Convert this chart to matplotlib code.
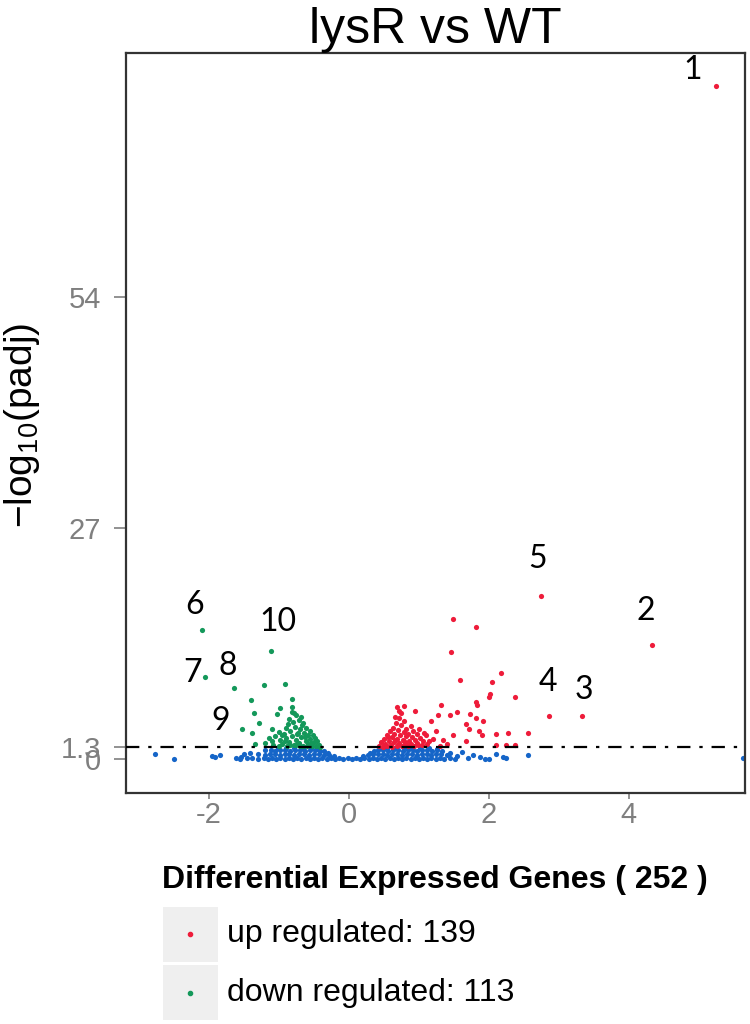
import matplotlib.pyplot as plt
import numpy as np
from matplotlib.patches import Rectangle
from matplotlib.lines import Line2D

plt.rcParams['font.family'] = ['Liberation Sans', 'DejaVu Sans']
plt.rcParams['mathtext.default'] = 'regular'
plt.rcParams['axes.unicode_minus'] = False

# up regulated genes (log2FC, -log10 padj)
up_pts = [
    (5.24, 78.6), (4.33, 13.3), (3.33, 5.0), (2.86, 5.0), (2.74, 19.0),
    (1.49, 16.3), (1.81, 15.4), (1.46, 12.4), (2.17, 10.0), (1.59, 9.2),
    (2.05, 8.9), (2.01, 7.6), (2.0, 7.2), (2.37, 7.2), (1.82, 6.6),
    (1.83, 6.3), (1.31, 6.3), (0.94, 5.6), (0.79, 6.1), (1.28, 5.06),
    (1.45, 5.06), (1.54, 5.4), (1.73, 5.2), (1.81, 4.7), (1.91, 4.4),
    (1.17, 4.4), (1.67, 4.0), (1.71, 3.4), (1.86, 3.2), (1.9, 2.7),
    (2.1, 2.9), (2.27, 3.0), (2.56, 3.0), (1.25, 3.2), (1.1, 2.8),
    (1.49, 2.7), (1.2, 2.3), (1.67, 2.05), (1.4, 1.7), (2.1, 1.55),
    (2.25, 1.55), (2.37, 1.55), (0.99, 1.55),
    (0.43, 1.5), (0.46, 1.9), (0.48, 1.4), (0.5, 2.3), (0.52, 1.7),
    (0.54, 2.8), (0.55, 1.5), (0.57, 2.1), (0.58, 3.2), (0.6, 1.6),
    (0.61, 2.5), (0.63, 3.6), (0.64, 1.9), (0.65, 2.9), (0.67, 4.1),
    (0.68, 1.5), (0.69, 2.3), (0.7, 3.3), (0.71, 4.7), (0.72, 1.8),
    (0.73, 2.7), (0.74, 3.9), (0.75, 5.3), (0.76, 1.5), (0.77, 2.2),
    (0.78, 3.1), (0.79, 4.4), (0.8, 1.8), (0.81, 2.6), (0.82, 3.5),
    (0.84, 1.5), (0.85, 2.9), (0.86, 2.1), (0.88, 3.8), (0.89, 1.7),
    (0.9, 2.5), (0.92, 3.2), (0.93, 1.5), (0.95, 2.2), (0.97, 2.9),
    (0.98, 1.8), (1.0, 3.4), (1.02, 2.4), (1.04, 1.6), (1.06, 2.0),
    (1.08, 3.0), (1.12, 1.7), (1.15, 2.1), (1.3, 1.5), (1.35, 2.2),
    (0.69, 6.0), (0.72, 5.6), (0.66, 4.8), (0.5, 1.6), (0.62, 1.4),
    (0.7, 1.6), (0.83, 1.6), (0.56, 2.5), (0.66, 2.2), (0.79, 2.0),
]

# down regulated genes
down_pts = [
    (-2.1, 15.05), (-2.06, 9.57), (-1.64, 8.3), (-1.11, 12.6), (-1.21, 8.55),
    (-0.91, 8.67), (-1.4, 6.8), (-0.81, 7.0), (-1.36, 5.37), (-0.99, 5.95),
    (-1.03, 5.25), (-0.82, 6.0), (-0.81, 5.4), (-0.75, 5.06), (-0.68, 4.86),
    (-1.29, 4.1), (-1.53, 3.5), (-1.39, 3.0), (-1.1, 3.5), (-1.34, 1.75),
    (-1.1, 2.0),
    (-1.05, 2.6), (-1.0, 3.1), (-0.98, 2.2), (-0.95, 1.7), (-0.93, 2.9),
    (-0.9, 3.6), (-0.9, 2.4), (-0.87, 4.0), (-0.86, 1.9), (-0.84, 3.2),
    (-0.82, 2.6), (-0.8, 4.3), (-0.79, 1.6), (-0.77, 3.7), (-0.76, 2.2),
    (-0.74, 2.9), (-0.72, 4.5), (-0.71, 1.8), (-0.7, 3.4), (-0.68, 2.5),
    (-0.67, 3.9), (-0.65, 1.5), (-0.64, 3.0), (-0.62, 2.1), (-0.61, 3.6),
    (-0.59, 2.7), (-0.58, 1.7), (-0.56, 3.2), (-0.55, 2.3), (-0.53, 1.5),
    (-0.52, 2.8), (-0.5, 1.9), (-0.48, 2.4), (-0.47, 1.5), (-0.45, 2.0),
    (-0.43, 1.6), (-0.41, 1.4), (-0.88, 1.5), (-0.96, 2.7), (-1.08, 1.6),
    (-1.14, 2.4), (-1.2, 1.8), (-0.85, 4.6), (-0.78, 5.3), (-0.73, 3.0),
    (-0.66, 4.2), (-0.6, 1.5), (-0.7, 1.5), (-0.75, 1.6), (-0.92, 2.0),
    (-0.63, 2.5), (-0.54, 1.8), (-0.84, 1.6), (-1.0, 1.5),
]

# not significant genes
ns_pts = [
    # bottom row
    (-1.62, 0.1), (-1.55, 0.0), (-1.38, 0.1), (-1.3, 0.0), (-1.22, 0.1),
    (-1.16, 0.0), (-1.1, 0.1), (-1.04, 0.0), (-0.98, 0.1), (-0.92, 0.0),
    (-0.86, 0.1), (-0.8, 0.0), (-0.74, 0.1), (-0.68, 0.0), (-0.62, 0.1),
    (-0.56, 0.0), (-0.5, 0.1), (-0.44, 0.0), (-0.38, 0.1), (-0.32, 0.0),
    (-0.26, 0.1), (-0.2, 0.0), (-0.14, 0.1), (-0.08, 0.0), (-0.02, 0.1),
    (0.04, 0.0), (0.1, 0.1), (0.16, 0.0), (0.22, 0.1), (0.28, 0.0),
    (0.34, 0.1), (0.4, 0.0), (0.46, 0.1), (0.52, 0.0), (0.58, 0.1),
    (0.64, 0.0), (0.7, 0.1), (0.76, 0.0), (0.82, 0.1), (0.88, 0.0),
    (0.94, 0.1), (1.0, 0.0), (1.06, 0.1), (1.12, 0.0), (1.18, 0.1),
    (1.24, 0.0), (1.3, 0.1), (1.36, 0.0), (1.44, 0.1), (1.52, 0.0),
    # second row
    (-1.3, 0.5), (-1.2, 0.45), (-1.13, 0.55), (-1.06, 0.5), (-0.99, 0.45),
    (-0.92, 0.55), (-0.85, 0.5), (-0.78, 0.45), (-0.71, 0.55), (-0.64, 0.5),
    (-0.57, 0.45), (-0.5, 0.55), (-0.43, 0.5), (-0.36, 0.45), (-0.29, 0.4),
    (-0.22, 0.3), (0.2, 0.3), (0.27, 0.45), (0.34, 0.5), (0.41, 0.55),
    (0.48, 0.5), (0.55, 0.45), (0.62, 0.55), (0.69, 0.5), (0.76, 0.45),
    (0.83, 0.55), (0.9, 0.5), (0.97, 0.45), (1.04, 0.55), (1.11, 0.5),
    (1.18, 0.45), (1.25, 0.55), (1.32, 0.5), (1.4, 0.45),
    # third row
    (-1.2, 0.95), (-1.12, 1.0), (-1.05, 0.9), (-0.98, 1.0), (-0.91, 0.95),
    (-0.84, 0.9), (-0.77, 1.0), (-0.7, 0.95), (-0.63, 0.9), (-0.56, 1.0),
    (-0.49, 0.95), (-0.42, 0.9), (-0.35, 0.85), (-0.3, 0.7), (0.3, 0.7),
    (0.36, 0.85), (0.42, 0.95), (0.49, 1.0), (0.56, 0.9), (0.63, 0.95),
    (0.7, 1.0), (0.77, 0.9), (0.84, 0.95), (0.91, 1.0), (0.98, 0.9),
    (1.05, 0.95), (1.12, 1.0), (1.19, 0.9), (1.26, 0.95), (1.33, 0.85),
    # top row
    (-1.02, 1.2), (-0.9, 1.25), (-0.78, 1.2), (-0.66, 1.25), (-0.54, 1.2),
    (-0.45, 1.15), (0.45, 1.2), (0.55, 1.25), (0.66, 1.2), (0.78, 1.25),
    (0.9, 1.2), (1.02, 1.25), (1.14, 1.2), (1.26, 1.15),
    # sparse
    (-2.77, 0.5), (-2.5, 0.0), (-1.96, 0.3), (-1.91, 0.2), (-1.84, 0.45),
    (-1.54, 0.2), (-1.5, 0.5), (-1.45, 0.1), (-1.42, 0.7),
    (1.45, 0.6), (1.55, 0.3), (1.62, 0.8), (1.7, 0.1), (1.78, 0.4),
    (1.88, 0.2), (1.94, 0.0), (2.0, 0.0), (2.1, 0.5), (2.2, 0.2),
    (2.25, 0.1), (2.56, 0.4), (5.63, 0.1),
]

# numbered labels next to selected genes
label_text = ['1', '2', '3', '4', '5', '6', '7', '8', '9', '10']
label_x = [4.91, 4.24, 3.36, 2.84, 2.69, -2.20, -2.24, -1.73, -1.83, -1.02]
label_y = [80.5, 17.3, 7.97, 9.0, 23.3, 17.9, 10.0, 10.85, 4.43, 16.0]

y_ticks = [0, 1.3, 27, 54]
y_ticklabels = ['0', '1.3', '27', '54']
x_ticks = [-2, 0, 2, 4]

red = '#EE1C3A'
green = '#14985A'
blue = '#1565C8'

fig = plt.figure(figsize=(7.5, 10.24), dpi=100)
ax = fig.add_axes([0.168, 0.2256, 0.825, 0.7224])

ns = np.array(ns_pts).T
up = np.array(up_pts).T
down = np.array(down_pts).T
ax.scatter(ns[0], ns[1], s=14, color=blue, linewidths=0, zorder=2)
ax.scatter(up[0], up[1], s=14, color=red, linewidths=0, zorder=3)
ax.scatter(down[0], down[1], s=14, color=green, linewidths=0, zorder=3)

ax.axhline(1.3, color='black', lw=1.6, ls=(0, (6, 4, 1.5, 4)), zorder=4)

for t, x, y in zip(label_text, label_x, label_y):
    ax.text(x, y, t, fontsize=23, family='Lato', ha='center', va='center')

ax.set_xlim(-3.186, 5.657)
ax.set_ylim(-4.03, 82.45)
ax.set_yticks(y_ticks)
ax.set_yticklabels(y_ticklabels)
ax.set_xticks(x_ticks)
ax.tick_params(colors='#7f7f7f', labelsize=21, width=1.2)
ax.tick_params(axis='y', length=9, pad=9)
ax.tick_params(axis='x', length=4, pad=2)
for sp in ax.spines.values():
    sp.set_linewidth(1.6)
    sp.set_color('#333333')

ax.set_title('lysR vs WT', fontsize=36, pad=6)
ax.set_ylabel('$-log_{10}(padj)$', fontsize=28)
ax.yaxis.set_label_coords(-0.136, 0.497)

fig.text(0.58, 0.1406, 'Differential Expressed Genes ( 252 )',
         fontsize=23, fontweight='bold', ha='center', va='center')

# legend drawn by hand
for yb, col, txt in [(0.0608, red, 'up regulated: 139'),
                     (0.0039, green, 'down regulated: 113')]:
    fig.add_artist(Rectangle((0.217, yb), 0.073, 0.0535,
                             transform=fig.transFigure, facecolor='#efefef',
                             edgecolor='none'))
    fig.add_artist(Line2D([0.2535], [yb + 0.0268], marker='o', markersize=3,
                          color=col, transform=fig.transFigure))
    fig.text(0.303, yb + 0.0268, txt, fontsize=23, ha='left', va='center')

fig.savefig('out.png', dpi=100)
